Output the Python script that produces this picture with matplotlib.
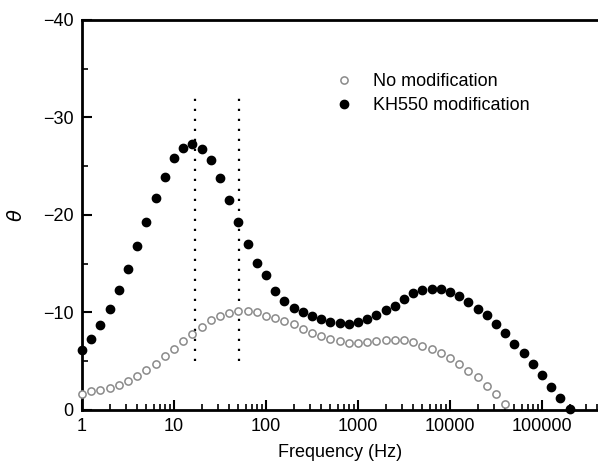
import numpy as np
import matplotlib
matplotlib.use("Agg")
import matplotlib.pyplot as plt
from matplotlib.ticker import LogLocator, FixedLocator, MultipleLocator, NullFormatter

plt.rcParams['font.family'] = ['Liberation Sans', 'DejaVu Sans']

# Frequencies: 10 points per decade
freq_kh = 10 ** (np.arange(0, 54) / 10.0)
theta_kh = [-6.15, -7.3, -8.7, -10.4, -12.3, -14.5, -16.8, -19.3, -21.7, -23.9,
            -25.8, -26.9, -27.3, -26.8, -25.6, -23.8, -21.5, -19.3, -17.0, -15.1,
            -13.8, -12.2, -11.2, -10.5, -10.0, -9.6, -9.3, -9.0, -8.9, -8.85,
            -9.0, -9.3, -9.7, -10.3, -10.7, -11.4, -12.0, -12.3, -12.45, -12.4,
            -12.1, -11.7, -11.1, -10.4, -9.7, -8.8, -7.9, -6.8, -5.8, -4.7,
            -3.6, -2.4, -1.2, -0.07]

freq_no = 10 ** (np.arange(0, 47) / 10.0)
theta_no = [-1.6, -1.9, -2.05, -2.3, -2.6, -3.0, -3.5, -4.1, -4.7, -5.5,
            -6.25, -7.05, -7.8, -8.5, -9.2, -9.6, -9.95, -10.15, -10.1, -10.0,
            -9.6, -9.4, -9.1, -8.8, -8.3, -7.9, -7.55, -7.25, -7.05, -6.9,
            -6.9, -7.0, -7.05, -7.15, -7.2, -7.15, -6.95, -6.6, -6.25, -5.8,
            -5.3, -4.7, -4.0, -3.35, -2.5, -1.6, -0.65]

vlines_x = [17, 51]
vline_range = (-5, -32)

fig = plt.figure(figsize=(5.98, 4.63), dpi=100)
ax = fig.add_axes([0.137, 0.1145, 0.863, 0.8425])

ax.plot(freq_no, theta_no, linestyle='none', marker='o', markersize=5.2,
        markerfacecolor='white', markeredgecolor='#8a8a8a', markeredgewidth=1.1,
        label='No modification', clip_on=False, zorder=3)
ax.plot(freq_kh, theta_kh, linestyle='none', marker='o', markersize=6.0,
        markerfacecolor='black', markeredgecolor='black',
        label='KH550 modification', clip_on=False, zorder=4)

for xv in vlines_x:
    ax.plot([xv, xv], list(vline_range), color='black', linestyle=(0, (1, 3.5)),
            linewidth=1.6, zorder=2)

ax.set_xscale('log')
ax.set_xlim(1, 4.06e5)
ax.set_ylim(0, -40)

ax.xaxis.set_major_locator(FixedLocator([1, 10, 100, 1000, 10000, 100000]))
ax.set_xticklabels(['1', '10', '100', '1000', '10000', '100000'])
ax.xaxis.set_minor_locator(LogLocator(base=10, subs=np.arange(2, 10), numticks=20))
ax.xaxis.set_minor_formatter(NullFormatter())
ax.yaxis.set_minor_locator(MultipleLocator(5))
ax.set_yticks([0, -10, -20, -30, -40])
ax.set_yticklabels(['0', '\u221210', '\u221220', '\u221230', '\u221240'])

ax.tick_params(which='major', direction='in', length=7, width=1.5, labelsize=13, pad=6,
               top=False, right=False)
ax.tick_params(which='minor', direction='in', length=4, width=1.2, top=False, right=False)

for s in ['left', 'bottom', 'top']:
    ax.spines[s].set_linewidth(2)
ax.spines['right'].set_visible(False)

ax.set_xlabel('Frequency (Hz)', fontsize=13, labelpad=6)
ax.set_ylabel(r'$\theta$', fontsize=14, labelpad=12)

ax.legend(loc='upper left', bbox_to_anchor=(0.473, 0.864), frameon=False, fontsize=13,
          handletextpad=0.6, labelspacing=0.4, borderaxespad=0, borderpad=0)

fig.savefig('out.png', dpi=100)
